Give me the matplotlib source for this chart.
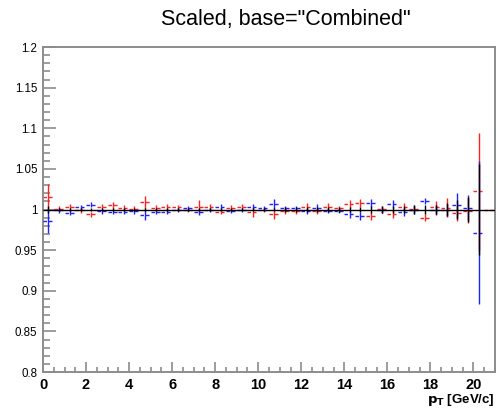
import numpy as np
import matplotlib
matplotlib.use("Agg")
import matplotlib.pyplot as plt
from matplotlib.ticker import MultipleLocator, FuncFormatter

plt.rcParams['font.family'] = ['Liberation Sans', 'DejaVu Sans']

# pT binning: 0.5 GeV/c bins from 0 to 21
bin_edges = np.arange(0.0, 21.01, 0.5)

# Ratio to the combined result for the two inputs
red_vals = [1.0158, 1.001, 1.0035, 0.999, 0.994, 1.0035, 1.005, 1.0023, 1.001, 1.0088,
            1.0023, 1.0035, 1.0027, 0.9994, 1.0035, 1.0035, 0.9973, 1.0023, 1.0035, 0.9973,
            0.9994, 0.994, 0.9977, 0.9977, 1.0035, 0.9977, 1.0035, 1.0014, 1.0068, 1.0076,
            0.992, 1.0002, 0.994, 1.0035, 1.001, 0.990, 1.0027, 1.0023, 0.9953, 0.9986,
            1.0225, 0.999]
red_errs = [0.015, 0.003, 0.003, 0.003, 0.003, 0.003, 0.004, 0.003, 0.003, 0.008,
            0.003, 0.003, 0.003, 0.003, 0.008, 0.003, 0.003, 0.003, 0.003, 0.006,
            0.003, 0.006, 0.003, 0.003, 0.004, 0.003, 0.004, 0.003, 0.005, 0.005,
            0.005, 0.004, 0.005, 0.005, 0.004, 0.004, 0.008, 0.012, 0.010, 0.015,
            0.072, 0.0]
blue_vals = [0.986, 0.999, 0.996, 1.003, 1.006, 0.998, 0.997, 0.9973, 0.998, 0.9932,
             0.9973, 0.9973, 0.9994, 1.0014, 0.997, 0.9994, 1.0035, 0.9982, 0.9994, 1.0035,
             1.0014, 1.0072, 1.0014, 1.0014, 0.9977, 1.0014, 0.9982, 0.9986, 0.994, 0.992,
             1.0084, 0.9994, 1.0068, 0.9965, 0.999, 1.0105, 0.9994, 0.9994, 1.0051, 1.0023,
             0.9715, np.nan]
blue_errs = [0.015, 0.003, 0.003, 0.003, 0.003, 0.003, 0.003, 0.003, 0.003, 0.006,
             0.003, 0.003, 0.003, 0.003, 0.004, 0.003, 0.003, 0.003, 0.003, 0.003,
             0.003, 0.006, 0.003, 0.003, 0.003, 0.005, 0.003, 0.003, 0.005, 0.005,
             0.005, 0.004, 0.005, 0.005, 0.005, 0.004, 0.006, 0.008, 0.015, 0.015,
             0.088, 0.0]
comb_errs = [0.004, 0.002, 0.002, 0.002, 0.002, 0.002, 0.002, 0.002, 0.002, 0.002,
             0.002, 0.002, 0.002, 0.002, 0.002, 0.002, 0.002, 0.002, 0.002, 0.002,
             0.002, 0.002, 0.003, 0.003, 0.003, 0.003, 0.003, 0.003, 0.003, 0.003,
             0.004, 0.004, 0.004, 0.004, 0.005, 0.005, 0.006, 0.008, 0.012, 0.015,
             0.056, 0.0]

fig = plt.figure(figsize=(4.99, 4.15), dpi=100)
ax = fig.add_axes([0.0862, 0.1036, 0.9058, 0.7831])

lo = bin_edges[:-1]
hi = bin_edges[1:]
centers = 0.5 * (lo + hi)


def draw_hist(vals, errs, color, lw=1.0, z=2):
    vals = np.asarray(vals, float)
    errs = np.asarray(errs, float)
    ok = ~np.isnan(vals)
    ax.hlines(vals[ok], lo[ok], hi[ok], colors=color, linestyles=(0, (2.5, 1.5)),
              lw=lw, zorder=z)
    ax.vlines(centers[ok], vals[ok] - errs[ok], vals[ok] + errs[ok],
              colors=color, lw=lw, zorder=z)


draw_hist(red_vals, red_errs, '#ff2020', z=2)
draw_hist(blue_vals, blue_errs, '#2020ff', z=3)
comb_vals = np.ones(len(centers))
ax.hlines(1.0, 0.0, 21.0, colors='black', lw=1.0, zorder=4)
ax.vlines(centers, comb_vals - np.asarray(comb_errs), comb_vals + np.asarray(comb_errs),
          colors='black', lw=1.0, zorder=4)

ax.set_xlim(0, 21)
ax.set_ylim(0.8, 1.2)
ax.xaxis.set_major_locator(MultipleLocator(2))
ax.xaxis.set_minor_locator(MultipleLocator(0.5))
ax.yaxis.set_major_locator(MultipleLocator(0.05))
ax.yaxis.set_minor_locator(MultipleLocator(0.01))
ax.yaxis.set_major_formatter(FuncFormatter(lambda v, p: f"{v:g}"))

frame_col = '#8c8c8c'
for s in ax.spines.values():
    s.set_color(frame_col)
    s.set_linewidth(1.4)

ax.tick_params(axis='both', which='both', direction='in', color=frame_col, width=1.2,
               top=False, right=False)
ax.tick_params(axis='x', which='major', length=7.5, labelsize=10.5, pad=4)
ax.tick_params(axis='x', which='minor', length=3.8)
ax.tick_params(axis='y', which='major', length=9.5, labelsize=8.3, pad=4)
ax.tick_params(axis='y', which='minor', length=5)
for lab in ax.get_xticklabels():
    lab.set_fontweight('bold')

fig.text(0.992, 0.017, r'$\mathbf{p_{T}}$ [GeV/c]', ha='right', va='bottom',
         fontsize=9.5, fontweight='bold')
fig.text(0.572, 0.954, 'Scaled, base="Combined"', ha='center', va='center', fontsize=15.5)

fig.savefig('out.png', dpi=100)
